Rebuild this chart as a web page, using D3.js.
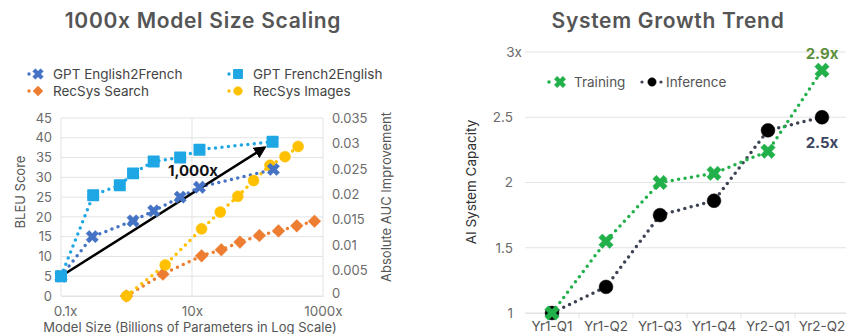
<!DOCTYPE html>
<html>
<head>
<meta charset="utf-8">
<script src="https://cdn.jsdelivr.net/npm/d3@7"></script>
<style>
body { margin: 0; background: #fff; }
svg { font-family: Inter, "Open Sans", sans-serif; }
</style>
</head>
<body>
<svg id="chart" width="846" height="334"></svg>
<script>
// Left chart data =========================================================
var e2fX = [0.1, 0.3, 1.26, 2.6, 6.6, 13, 175];
var e2fY = [5, 15, 19, 21.5, 25, 27.5, 32];
var f2eX = [0.1, 0.31, 0.79, 1.26, 2.6, 6.6, 13, 170];
var f2eY = [5, 25.5, 28, 31, 34, 35, 37, 39];
var searchX = [1, 3.6, 14, 28, 54, 107, 209, 398, 741];
var searchY = [0, 0.0043, 0.0079, 0.0091, 0.0106, 0.0119, 0.0128, 0.0138, 0.0147];
var imagesX = [1, 3.9, 14, 27, 50, 87, 155, 263, 417];
var imagesY = [0, 0.0061, 0.0132, 0.0165, 0.0196, 0.0227, 0.0257, 0.0274, 0.0294];
var bleuTicks = [0, 5, 10, 15, 20, 25, 30, 35, 40, 45];
var aucTicks = [0, 0.005, 0.01, 0.015, 0.02, 0.025, 0.03, 0.035];
var sizeTicks = [0.1, 10, 1000];
var sizeLabels = ["0.1x", "10x", "1000x"];

// Right chart data ========================================================
var quarters = ["Yr1-Q1", "Yr1-Q2", "Yr1-Q3", "Yr1-Q4", "Yr2-Q1", "Yr2-Q2"];
var training = [1, 1.55, 2, 2.07, 2.24, 2.86];
var inference = [1, 1.2, 1.75, 1.86, 2.4, 2.5];
var capTicks = [1, 1.5, 2, 2.5, 3];

var svg = d3.select("#chart");
var gridColor = "#e3e3e3";
var tickColor = "#6b6b6b";

var c = {
	e2f: "#4472c4",
	f2e: "#1ea7e4",
	search: "#ed7d31",
	images: "#ffc000",
	train: "#22b04b",
	infer: "#3c4352"
};

function zip(xs, ys) { return xs.map(function(x, i) { return [x, ys[i]]; }); }

function dotted(g, pts, color, x, y) {
	g.append("path")
		.datum(pts)
		.attr("fill", "none")
		.attr("stroke", color)
		.attr("stroke-width", 3.5)
		.attr("stroke-linecap", "round")
		.attr("stroke-dasharray", "0 6.5")
		.attr("d", d3.line().x(function(d){ return x(d[0]); }).y(function(d){ return y(d[1]); }));
}

function marker(g, type, color, size, px, py) {
	var sym = {
		x: d3.symbolCross, square: d3.symbolSquare, diamond: d3.symbolSquare, circle: d3.symbolCircle
	}[type];
	var rot = (type === "x" || type === "diamond") ? " rotate(45)" : "";
	g.append("path")
		.attr("d", d3.symbol().type(sym).size(size)())
		.attr("fill", color)
		.attr("stroke", color)
		.attr("stroke-width", type === "square" ? 1.5 : 0.5)
		.attr("stroke-linejoin", "round")
		.attr("transform", "translate(" + px + "," + py + ")" + rot);
}

// Left chart ==============================================================
var xL = d3.scaleLog().domain([0.1, 1000]).range([61, 323]);
var yL = d3.scaleLinear().domain([0, 45]).range([296, 118]);
var yR = d3.scaleLinear().domain([0, 0.035]).range([296, 118]);

var left = svg.append("g");

left.append("text")
	.attr("x", 203).attr("y", 28)
	.attr("text-anchor", "middle")
	.attr("font-size", 21).attr("font-weight", 600)
	.attr("letter-spacing", 0.7)
	.attr("fill", "#555")
	.text("1000x Model Size Scaling");

left.append("g").selectAll("line").data(bleuTicks).join("line")
	.attr("x1", 61).attr("x2", 323)
	.attr("y1", function(d){ return yL(d); }).attr("y2", function(d){ return yL(d); })
	.attr("stroke", gridColor);

left.append("g").selectAll("line").data(sizeTicks).join("line")
	.attr("x1", function(d){ return xL(d); }).attr("x2", function(d){ return xL(d); })
	.attr("y1", 118).attr("y2", 296)
	.attr("stroke", gridColor);

var axL = left.append("g")
	.attr("transform", "translate(61,0)")
	.call(d3.axisLeft(yL).tickValues(bleuTicks).tickSize(0).tickPadding(9));
axL.select(".domain").remove();
axL.selectAll("text").attr("font-size", 13).attr("fill", tickColor).attr("font-family", "Inter, sans-serif");

var axR = left.append("g")
	.attr("transform", "translate(323,0)")
	.call(d3.axisRight(yR).tickValues(aucTicks).tickSize(0).tickPadding(9)
		.tickFormat(function(d){ return d === 0 ? "0" : d3.format("")(+d.toFixed(3)); }));
axR.select(".domain").remove();
axR.selectAll("text").attr("font-size", 13).attr("fill", tickColor).attr("font-family", "Inter, sans-serif")
	.attr("dy", function(d){ return d === 0 ? "0.1em" : "0.32em"; });

var axB = left.append("g")
	.attr("transform", "translate(0,296)")
	.call(d3.axisBottom(xL).tickValues(sizeTicks).tickSize(0).tickPadding(10)
		.tickFormat(function(d, i){ return sizeLabels[i]; }));
axB.select(".domain").attr("stroke", gridColor);
axB.selectAll("text").attr("font-size", 13.5).attr("fill", tickColor).attr("font-family", "Inter, sans-serif")
	.attr("dx", function(d){ return d === 0.1 ? 4 : 0; });

left.append("text")
	.attr("transform", "translate(25,192) rotate(-90)")
	.attr("text-anchor", "middle")
	.attr("font-size", 13).attr("fill", "#555")
	.text("BLEU Score");

left.append("text")
	.attr("transform", "translate(391,197) rotate(-90)")
	.attr("text-anchor", "middle")
	.attr("font-size", 13).attr("fill", "#555")
	.text("Absolute AUC Improvement");

left.append("text")
	.attr("x", 190).attr("y", 332)
	.attr("text-anchor", "middle")
	.attr("font-size", 13).attr("fill", "#555")
	.text("Model Size (Billions of Parameters in Log Scale)");

var xImg = function(v){ return xL(v); };
dotted(left, zip(searchX, searchY), c.search, xImg, yR);
dotted(left, zip(imagesX, imagesY), c.images, xImg, yR);
dotted(left, zip(e2fX, e2fY), c.e2f, xImg, yL);
dotted(left, zip(f2eX, f2eY), c.f2e, xImg, yL);

// arrow
svg.append("defs").append("marker")
	.attr("id", "arrow")
	.attr("viewBox", "0 0 10 10")
	.attr("refX", 8).attr("refY", 5)
	.attr("markerWidth", 5).attr("markerHeight", 5)
	.attr("orient", "auto")
	.append("path").attr("d", "M0,0 L10,5 L0,10 z").attr("fill", "#000");

left.append("line")
	.attr("x1", xL(0.1)).attr("y1", yL(5))
	.attr("x2", xL(128)).attr("y2", yL(37.5))
	.attr("stroke", "#000").attr("stroke-width", 2.5)
	.attr("marker-end", "url(#arrow)");

zip(searchX, searchY).forEach(function(d){ marker(left, "diamond", c.search, 80, xL(d[0]), yR(d[1])); });
zip(imagesX, imagesY).forEach(function(d){ marker(left, "circle", c.images, 95, xL(d[0]), yR(d[1])); });
zip(e2fX, e2fY).forEach(function(d){ marker(left, "x", c.e2f, 95, xL(d[0]), yL(d[1])); });
zip(f2eX, f2eY).forEach(function(d){ marker(left, "square", c.f2e, 110, xL(d[0]), yL(d[1])); });

left.append("text")
	.attr("x", 193).attr("y", 176)
	.attr("text-anchor", "middle")
	.attr("font-size", 15).attr("font-weight", 700)
	.attr("fill", "#111")
	.text("1,000x");

// legend
var legendL = [
	{ name: "GPT English2French", type: "x", color: c.e2f, x: 29, y: 74 },
	{ name: "GPT French2English", type: "square", color: c.f2e, x: 229, y: 74 },
	{ name: "RecSys Search", type: "diamond", color: c.search, x: 29, y: 91 },
	{ name: "RecSys Images", type: "circle", color: c.images, x: 229, y: 91 }
];
legendL.forEach(function(d) {
	left.append("circle").attr("cx", d.x).attr("cy", d.y).attr("r", 1.7).attr("fill", d.color);
	marker(left, d.type, d.color, d.type === "circle" ? 60 : (d.type === "diamond" ? 50 : 70), d.x + 9, d.y);
	left.append("text")
		.attr("x", d.x + 24).attr("y", d.y + 5)
		.attr("font-size", 13.5).attr("fill", "#444")
		.text(d.name);
});

// Right chart =============================================================
var xQ = d3.scaleBand().domain(quarters).range([525, 849]);
var yQ = d3.scaleLinear().domain([1, 3]).range([313, 52]);
var right = svg.append("g");
var cx = function(q){ return xQ(q) + xQ.bandwidth() / 2; };

right.append("text")
	.attr("x", 668).attr("y", 28)
	.attr("text-anchor", "middle")
	.attr("font-size", 21).attr("font-weight", 600)
	.attr("letter-spacing", 0.7)
	.attr("fill", "#555")
	.text("System Growth Trend");

right.append("g").selectAll("line").data(capTicks).join("line")
	.attr("x1", 525).attr("x2", 846)
	.attr("y1", function(d){ return yQ(d); }).attr("y2", function(d){ return yQ(d); })
	.attr("stroke", gridColor);

var axQ = right.append("g")
	.attr("transform", "translate(525,0)")
	.call(d3.axisLeft(yQ).tickValues(capTicks).tickSize(0).tickPadding(12)
		.tickFormat(function(d){ return d === 3 ? "3x" : d; }));
axQ.select(".domain").remove();
axQ.selectAll("text").attr("font-size", 13.5).attr("fill", tickColor).attr("font-family", "Inter, sans-serif")
	.attr("dx", function(d){ return d === 3 ? 9 : 0; });

var axQB = right.append("g")
	.attr("transform", "translate(0,313)")
	.call(d3.axisBottom(xQ).tickSize(0).tickPadding(8));
axQB.select(".domain").attr("stroke", gridColor);
axQB.selectAll("text").attr("font-size", 13.5).attr("fill", "#555").attr("font-family", "Inter, sans-serif");
axQB.selectAll(".sep").data(quarters.slice(1)).join("line")
	.attr("class", "sep")
	.attr("x1", function(q){ return xQ(q); }).attr("x2", function(q){ return xQ(q); })
	.attr("y1", 0).attr("y2", 5)
	.attr("stroke", gridColor);

right.append("text")
	.attr("transform", "translate(476,182) rotate(-90)")
	.attr("text-anchor", "middle")
	.attr("font-size", 13.5).attr("fill", "#333")
	.text("AI System Capacity");

var trainPts = zip(quarters, training);
var inferPts = zip(quarters, inference);
dotted(right, inferPts, c.infer, cx, yQ);
dotted(right, trainPts, c.train, cx, yQ);
inferPts.forEach(function(d){ marker(right, "circle", "#000", 150, cx(d[0]), yQ(d[1])); });
trainPts.forEach(function(d){ marker(right, "x", c.train, 130, cx(d[0]), yQ(d[1])); });

right.append("text")
	.attr("x", cx("Yr2-Q2")).attr("y", 59)
	.attr("text-anchor", "middle")
	.attr("font-size", 15).attr("font-weight", 700)
	.attr("fill", "#5e8f3e")
	.text("2.9x");
right.append("text")
	.attr("x", cx("Yr2-Q2")).attr("y", 148)
	.attr("text-anchor", "middle")
	.attr("font-size", 15).attr("font-weight", 700)
	.attr("fill", "#3c4560")
	.text("2.5x");

// legend
right.append("circle").attr("cx", 549).attr("cy", 82).attr("r", 1.8).attr("fill", c.train);
marker(right, "x", c.train, 80, 560, 82);
right.append("text").attr("x", 574).attr("y", 87).attr("font-size", 13.5).attr("fill", "#555").text("Training");
right.append("circle").attr("cx", 642).attr("cy", 82).attr("r", 1.6).attr("fill", c.infer);
marker(right, "circle", "#000", 55, 652, 82);
right.append("circle").attr("cx", 661).attr("cy", 82).attr("r", 1.6).attr("fill", c.infer);
right.append("text").attr("x", 666).attr("y", 87).attr("font-size", 13.5).attr("fill", "#555").text("Inference");
</script>
</body>
</html>
